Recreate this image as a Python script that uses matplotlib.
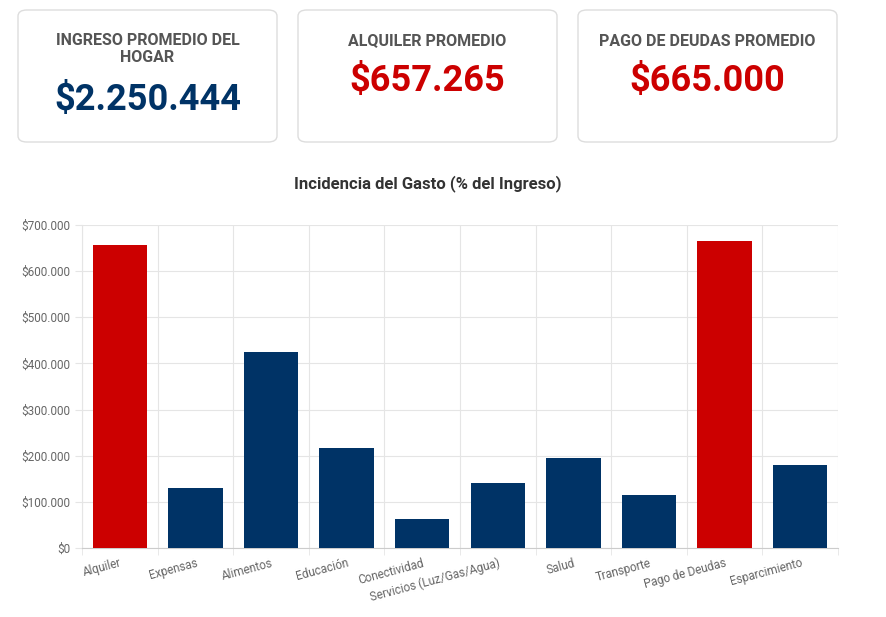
import matplotlib.pyplot as plt
from matplotlib.patches import FancyBboxPatch
from matplotlib.ticker import FuncFormatter, FixedLocator
import numpy as np

plt.rcParams['font.family'] = ['Roboto', 'DejaVu Sans']

categories = ["Alquiler", "Expensas", "Alimentos", "Educación", "Conectividad",
              "Servicios (Luz/Gas/Agua)", "Salud", "Transporte", "Pago de Deudas", "Esparcimiento"]
values = [657265, 130000, 424000, 217000, 63000, 141000, 195000, 115000, 665000, 180000]
highlight = ["Alquiler", "Pago de Deudas"]

card_titles = ["INGRESO PROMEDIO DEL\nHOGAR", "ALQUILER PROMEDIO", "PAGO DE DEUDAS PROMEDIO"]
card_values = ["$2.250.444", "$657.265", "$665.000"]
card_colors = ["#003366", "#cc0000", "#cc0000"]

NAVY = "#003366"
RED = "#cc0000"
W, H = 887, 617

fig = plt.figure(figsize=(W / 100, H / 100), dpi=100)
fig.patch.set_facecolor("white")

# KPI cards
card_x = [18, 298, 578]
for cx, t, v, c in zip(card_x, card_titles, card_values, card_colors):
    box = FancyBboxPatch((cx / W, 1 - 142 / H), 259 / W, 132 / H,
                         boxstyle="round,pad=0,rounding_size=0.01",
                         transform=fig.transFigure, facecolor="white",
                         edgecolor="#dddddd", linewidth=1)
    fig.patches.append(box)
    mid = (cx + 129.5) / W
    if "\n" in t:
        fig.text(mid, 1 - 49 / H, t, ha="center", va="center", fontsize=11.5,
                 fontweight="bold", color="#555555", linespacing=1.1)
        fig.text(mid, 1 - 100 / H, v, ha="center", va="center", fontsize=26,
                 fontweight="bold", color=c)
    else:
        fig.text(mid, 1 - 41 / H, t, ha="center", va="center", fontsize=11.5,
                 fontweight="bold", color="#555555")
        fig.text(mid, 1 - 81 / H, v, ha="center", va="center", fontsize=26,
                 fontweight="bold", color=c)

fig.text(428 / W, 1 - 184 / H, "Incidencia del Gasto (% del Ingreso)", ha="center",
         va="center", fontsize=12, fontweight="bold", color="#333333")

ax = fig.add_axes([82 / W, 1 - 548 / H, 756 / W, 323 / H])
x = np.arange(len(categories))
colors = [RED if c in highlight else NAVY for c in categories]
ax.bar(x, values, width=0.72, color=colors, zorder=3)

ax.set_xlim(-0.5, len(categories) - 0.5)
ax.set_ylim(0, 700000)
ax.set_yticks(np.arange(0, 700001, 100000))
ax.yaxis.set_major_formatter(FuncFormatter(lambda v, p: "$" + f"{int(v):,}".replace(",", ".")))
ax.set_xticks(x)
ax.set_xticklabels(categories, rotation=15, ha="right", rotation_mode="anchor")
ax.xaxis.set_minor_locator(FixedLocator(np.arange(-0.5, len(categories), 1)))
ax.tick_params(axis="x", which="major", length=0, labelsize=8.5, labelcolor="#666666", pad=6)
ax.tick_params(axis="x", which="minor", length=5, color="#e5e5e5")
ax.tick_params(axis="y", length=5, color="#e5e5e5", labelsize=8.5, labelcolor="#666666")
ax.grid(True, axis="y", which="major", color="#e5e5e5", linewidth=0.8, zorder=0)
ax.grid(True, axis="x", which="minor", color="#e5e5e5", linewidth=0.8, zorder=0)
for s in ax.spines.values():
    s.set_visible(False)
ax.spines["bottom"].set_visible(True)
ax.spines["bottom"].set_color("#cccccc")
ax.spines["left"].set_visible(True)
ax.spines["left"].set_color("#e5e5e5")

fig.savefig("out.png", dpi=100, facecolor="white")
